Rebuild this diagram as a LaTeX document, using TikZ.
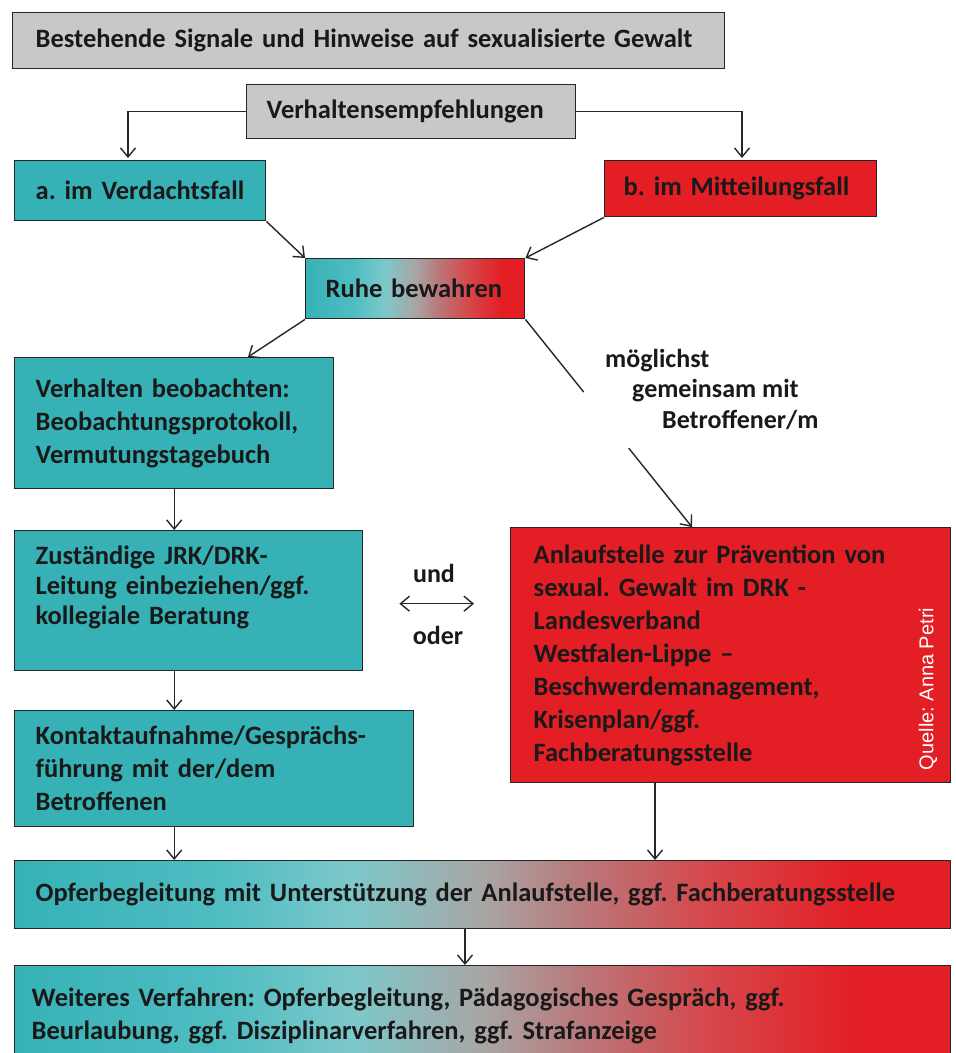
\documentclass[tikz,border=0pt]{standalone}
\usepackage{fontspec}
\setmainfont{Carlito}
\newfontfamily\quellefont{Liberation Sans}
\usetikzlibrary{arrows.meta,calc,positioning}
\definecolor{drkteal}{HTML}{36B2B7}
\definecolor{drkred}{HTML}{E31E24}
\definecolor{boxgray}{HTML}{C8C8C8}
\definecolor{tealmix}{HTML}{4FBDC2}
\definecolor{lteal}{HTML}{7CC8CA}
\definecolor{midgray}{HTML}{A8A6A5}
\definecolor{rosy}{HTML}{B87A7C}
\definecolor{warmred}{HTML}{D5484C}
\pgfdeclarehorizontalshading{tealtored}{100bp}{color(0bp)=(drkteal); color(25bp)=(drkteal); color(36bp)=(tealmix); color(43bp)=(lteal); color(50bp)=(midgray); color(55bp)=(rosy); color(62bp)=(warmred); color(70bp)=(drkred); color(100bp)=(drkred)}
\tikzset{
  box/.style={draw=black!85, line width=1.4pt, anchor=north west, inner ysep=0pt,
    align=left, text=black!90, font=\bfseries\fontsize{26.5}{33}\selectfont},
  gradbox/.style={box, shade, shading=tealtored},
  lbl/.style={inner sep=0pt, align=left, text=black!90, font=\bfseries\fontsize{26}{30.5}\selectfont},
  arr/.style={-{Straight Barb[length=9pt,width=15pt]}, line width=1.4pt, draw=black!85},
  dblarr/.style={{Straight Barb[length=9pt,width=15pt]}-{Straight Barb[length=9pt,width=15pt]}, line width=1.4pt, draw=black!85},
  plain/.style={line width=1.4pt, draw=black!85},
}

\begin{document}
\frenchspacing
\begin{tikzpicture}[x=1pt, y=-1pt]
\useasboundingbox (0,0) rectangle (956,1053);

% --- grey header boxes ---
\node[box, fill=boxgray, inner xsep=23pt, text width=666pt, minimum height=56pt] (signale) at (12,12)
  {Bestehende Signale und Hinweise auf sexualisierte Gewalt};
\node[box, fill=boxgray, inner xsep=20pt, text width=289pt, minimum height=54pt] (empf) at (246,84)
  {Verhaltensempfehlungen};

% --- the two cases ---
\node[box, fill=drkteal, inner xsep=21pt, text width=209pt, minimum height=60pt] (verdacht) at (14,160)
  {a. im Verdachtsfall};
\node[box, fill=drkred, inner xsep=19pt, text width=234pt, minimum height=56pt] (mitteil) at (604,160)
  {b. im Mitteilungsfall};
\node[gradbox, inner xsep=20pt, text width=179pt, minimum height=60pt] (ruhe) at (305,258)
  {Ruhe bewahren};

% --- left column ---
\node[box, fill=drkteal, inner xsep=21pt, text width=277pt, minimum height=131pt] (beob) at (14,357)
  {Verhalten beobachten:\\Beobachtungsprotokoll,\\Vermutungstagebuch};
\node[box, fill=drkteal, inner xsep=21pt, text width=306pt, minimum height=140pt, text depth=92pt,
  font=\bfseries\fontsize{26.5}{30}\selectfont] (leitung) at (14,530)
  {Zuständige JRK/DRK-\\Leitung einbeziehen/ggf.\\kollegiale Beratung};
\node[box, fill=drkteal, inner xsep=21pt, text width=357pt, minimum height=116pt] (kontakt) at (14,710)
  {Kontaktaufnahme/Gesprächs-\\führung mit der/dem\\Betroffenen};

% --- right column ---
\node[box, fill=drkred, inner xsep=23pt, text width=394pt, minimum height=255pt] (anlauf) at (510,527)
  {Anlaufstelle zur Prävention von\\sexual. Gewalt im DRK -\\Landesverband\\Westfalen-Lippe –\\Beschwerdemanagement,\\Krisenplan/ggf.\\Fachberatungsstelle};
\node[rotate=90, inner sep=0pt, text=white, font=\quellefont\fontsize{20}{20}\selectfont] (quelle) at (928,689)
  {Quelle: Anna Petri};

% --- bottom rows ---
\node[gradbox, inner xsep=21pt, text width=894pt, minimum height=68pt] (opfer) at (14,860)
  {Opferbegleitung mit Unterstützung der Anlaufstelle, ggf. Fachberatungsstelle};
\node[gradbox, inner xsep=17pt, text width=902pt, minimum height=100pt] (weiter) at (14,965)
  {Weiteres Verfahren: Opferbegleitung, Pädagogisches Gespräch, ggf.\\Beurlaubung, ggf. Disziplinarverfahren, ggf. Strafanzeige};

% --- free labels ---
\node[lbl, anchor=north west] (hinweis) at (605,349)
  {möglichst\\\hspace*{27pt}gemeinsam mit\\\hspace*{57pt}Betroffener/m};
\node[lbl] (und) at (434,573) {und};
\node[lbl] (oder) at (438,635) {oder};

% --- connectors ---
\coordinate (vL) at (128,160);
\coordinate (vR) at (742,160);
\draw[arr, shorten >=2pt] (empf.west) -| (vL);
\draw[arr, shorten >=2pt] (empf.east) -| (vR);
\draw[arr] (verdacht.south east) -- (ruhe.north west);
\draw[arr] (mitteil.south west) -- (ruhe.north east);
\coordinate (beobIn) at (248,357);
\draw[arr] (ruhe.south west) -- (beobIn);
\coordinate (anlaufIn) at (692,527);
\draw[plain] (ruhe.south east) -- ($(ruhe.south east)!0.35!(anlaufIn)$);
\draw[arr] ($(ruhe.south east)!0.62!(anlaufIn)$) -- (anlaufIn);

\draw[arr] (beob.south) -- (beob.south |- leitung.north);
\draw[arr] (beob.south |- leitung.south) -- (beob.south |- kontakt.north);
\draw[arr] (beob.south |- kontakt.south) -- (beob.south |- opfer.north);
\draw[arr] ($(anlauf.south west)+(145,0)$) -- ($(anlauf.south west |- opfer.north)+(145,0)$);
\draw[arr] ($(opfer.south west)+(451,0)$) -- ($(opfer.south west |- weiter.north)+(451,0)$);
\draw[dblarr] ($(leitung.east)+(36,3)$) -- ($(anlauf.west |- leitung.east)+(-36,3)$);

\end{tikzpicture}
\end{document}
